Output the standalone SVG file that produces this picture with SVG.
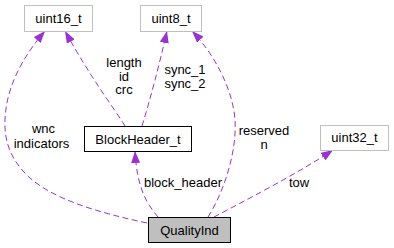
<svg xmlns="http://www.w3.org/2000/svg" width="394" height="248" viewBox="0 0 394 248">
  <style>
    text { font-family: "Liberation Sans", Arial, sans-serif; font-size: 13px; fill: #000; text-anchor: middle; }
    .ext rect { fill: #fff; stroke: #bfbfbf; stroke-width: 1; }
    .cls rect { fill: #fff; stroke: #000; stroke-width: 1; }
    .cur rect { fill: #bfbfbf; stroke: #000; stroke-width: 1; }
    .edge { fill: none; stroke: #9a32cd; stroke-width: 1; stroke-dasharray: 6,3.5; marker-end: url(#ah); }
  </style>
  <defs>
    <!-- filled arrowhead for member-usage edges -->
    <marker id="ah" viewBox="0 0 12 9" refX="12" refY="4.5" markerWidth="12" markerHeight="9" markerUnits="userSpaceOnUse" orient="auto">
      <path d="M0,0 L12,4.5 L0,9 z" fill="#9a32cd"/>
    </marker>
  </defs>

  <g id="connectors">
    <path class="edge" d="M147,223 C100,213 55,200 30,178 C10,160 4,140 5,120 C6,90 20,60 45,31"/>
    <text x="43.5" y="133">wnc</text>
    <text x="41.5" y="148">indicators</text>

    <path class="edge" d="M125,126 C112,105 92,80 65,31"/>
    <text x="124" y="67">length</text>
    <text x="124" y="80.5">id</text>
    <text x="124" y="94">crc</text>

    <path class="edge" d="M142,126 C150,100 158,70 167,31"/>
    <text x="185" y="74">sync_1</text>
    <text x="185" y="88">sync_2</text>

    <path class="edge" d="M208,217 C225,190 237,150 235,120 C233,90 215,55 192,31"/>
    <text x="264" y="135">reserved</text>
    <text x="264" y="149">n</text>

    <path class="edge" d="M158,217 C148,205 137,190 135,151"/>
    <text x="183" y="187">block_header</text>

    <path class="edge" d="M214,217 C250,198 300,172 333,150"/>
    <text x="299" y="187">tow</text>
  </g>

  <g id="uint16_t" class="ext">
    <rect x="24.5" y="5.5" width="68" height="26"/>
    <text x="58.5" y="22.5">uint16_t</text>
  </g>
  <g id="uint8_t" class="ext">
    <rect x="140.5" y="5.5" width="61" height="26"/>
    <text x="171" y="22.5">uint8_t</text>
  </g>
  <g id="BlockHeader_t" class="cls">
    <rect x="84.5" y="126.5" width="107" height="25"/>
    <text x="138" y="143.5">BlockHeader_t</text>
  </g>
  <g id="uint32_t" class="ext">
    <rect x="320.5" y="125.5" width="68" height="25"/>
    <text x="354.5" y="142">uint32_t</text>
  </g>
  <g id="QualityInd" class="cur">
    <rect x="148.5" y="217.5" width="82" height="25"/>
    <text x="189.5" y="234.5">QualityInd</text>
  </g>
</svg>
